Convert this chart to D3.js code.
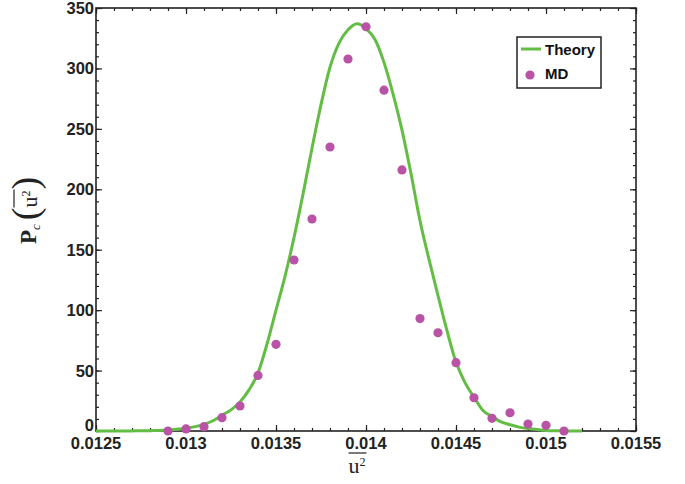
<!DOCTYPE html>
<html>
<head>
<meta charset="utf-8">
<script src="https://cdn.jsdelivr.net/npm/d3@7"></script>
<style>
  body { margin: 0; background: #fff; }
  svg { display: block; }
  .tick-label { font-family: "Liberation Sans", Arial, sans-serif; font-weight: bold; font-size: 16.5px; fill: #222; }
</style>
</head>
<body>
<svg id="chart" width="685" height="484"></svg>
<script>
// MD samples
const mdX = [0.0129, 0.0130, 0.0131, 0.0132, 0.0133, 0.0134, 0.0135, 0.0136, 0.0137, 0.0138, 0.0139, 0.0140,
             0.0141, 0.0142, 0.0143, 0.0144, 0.0145, 0.0146, 0.0147, 0.0148, 0.0149, 0.0150, 0.0151];
const mdY = [0, 1.7, 3.6, 11, 20.7, 46, 71.7, 141.5, 175.4, 235, 307.8, 334.5,
             282, 216, 93, 81.3, 56.5, 27.5, 10.5, 15.1, 5.8, 4.7, 0];

// theory curve
const theoryX = [0.0125, 0.0126, 0.0127, 0.0128, 0.0129, 0.0130, 0.0131, 0.01315, 0.0132, 0.01325, 0.0133, 0.01335,
                 0.0134, 0.01345, 0.0135, 0.01355, 0.0136, 0.01365, 0.0137, 0.01375, 0.0138, 0.01385, 0.0139, 0.01395,
                 0.0140, 0.01405, 0.0141, 0.01415, 0.0142, 0.01425, 0.0143, 0.01435, 0.0144, 0.01445, 0.0145, 0.01455,
                 0.0146, 0.01465, 0.0147, 0.01475, 0.0148, 0.01485, 0.0149, 0.01495, 0.0150, 0.01505, 0.0151, 0.0152];
const theoryY = [0, 0, 0.1, 0.3, 0.8, 2.2, 5.5, 8.5, 13, 17.5, 24, 34,
                 48, 72, 100, 128, 160, 196, 234, 270, 301, 321, 332, 337,
                 333, 324, 305, 279, 249, 213, 174, 142, 112, 83, 57, 40,
                 28, 17, 12, 7.5, 5.2, 3.2, 2.0, 1.2, 0.5, 0.2, 0.1, 0];

const xTicks = [0.0125, 0.013, 0.0135, 0.014, 0.0145, 0.015, 0.0155];
const xTickLabels = ["0.0125", "0.013", "0.0135", "0.014", "0.0145", "0.015", "0.0155"];
const yTicks = [0, 50, 100, 150, 200, 250, 300, 350];
const legendLabels = ["Theory", "MD"];

const green = "#63bd45", magenta = "#b853a6";

const margin = { top: 8, right: 49, bottom: 53, left: 96 },
      width = 685 - margin.left - margin.right,
      height = 484 - margin.top - margin.bottom;

const svg = d3.select("#chart");
const g = svg.append("g").attr("transform", `translate(${margin.left},${margin.top})`);

const x = d3.scaleLinear().domain([0.0125, 0.0155]).range([0, width]);
const y = d3.scaleLinear().domain([0, 350]).range([height, 0]);

const minorX = d3.range(0, 31).map(i => 0.0125 + i * 0.0001);
const minorY = d3.range(0, 36).map(i => i * 10);

// inward ticks on all four sides
function tickSet(axis, scale, values, len) {
    return axis(scale).tickValues(values).tickSizeInner(len).tickSizeOuter(0).tickFormat("");
}
const frame = g.append("g").attr("class", "frame");
frame.append("g").attr("transform", `translate(0,${height})`).call(tickSet(d3.axisTop, x, minorX, 3));
frame.append("g").attr("transform", `translate(0,${height})`).call(tickSet(d3.axisTop, x, xTicks, 6));
frame.append("g").call(tickSet(d3.axisBottom, x, minorX, 3));
frame.append("g").call(tickSet(d3.axisBottom, x, xTicks, 6));
frame.append("g").call(tickSet(d3.axisRight, y, minorY, 3));
frame.append("g").call(tickSet(d3.axisRight, y, yTicks, 6));
frame.append("g").attr("transform", `translate(${width},0)`).call(tickSet(d3.axisLeft, y, minorY, 3));
frame.append("g").attr("transform", `translate(${width},0)`).call(tickSet(d3.axisLeft, y, yTicks, 6));
frame.selectAll(".domain").remove();
frame.selectAll(".tick line").attr("stroke", "#222").attr("stroke-width", 1.2);

g.append("rect")
    .attr("width", width).attr("height", height)
    .attr("fill", "none").attr("stroke", "#222").attr("stroke-width", 1.6);

// tick labels
g.selectAll(".xlab").data(xTicks).enter().append("text")
    .attr("class", "tick-label")
    .attr("x", d => x(d)).attr("y", height + 18)
    .attr("text-anchor", "middle")
    .text((d, i) => xTickLabels[i]);

// the 0 label sits on the axis line so it clears 0.0125
g.selectAll(".ylab").data(yTicks).enter().append("text")
    .attr("class", "tick-label")
    .attr("x", -2).attr("y", d => d === 0 ? y(d) - 6 : y(d))
    .attr("dy", "0.36em")
    .attr("text-anchor", "end")
    .text(d => d);

// theory curve
const line = d3.line().x((d, i) => x(theoryX[i])).y(d => y(d)).curve(d3.curveMonotoneX);
g.append("path")
    .datum(theoryY)
    .attr("fill", "none")
    .attr("stroke", green)
    .attr("stroke-width", 3)
    .attr("d", line);

// MD points
g.selectAll(".dot").data(mdY).enter().append("circle")
    .attr("cx", (d, i) => x(mdX[i]))
    .attr("cy", d => y(d))
    .attr("r", 4.6)
    .attr("fill", magenta);

// legend
const lg = svg.append("g").attr("transform", "translate(517,37)");
lg.append("rect").attr("width", 84).attr("height", 51)
    .attr("fill", "#fff").attr("stroke", "#222").attr("stroke-width", 1.5);
lg.append("line").attr("x1", 4).attr("x2", 24).attr("y1", 12).attr("y2", 12)
    .attr("stroke", green).attr("stroke-width", 3);
lg.append("circle").attr("cx", 13).attr("cy", 38).attr("r", 4.6).attr("fill", magenta);
lg.selectAll(".lt").data(legendLabels).enter().append("text")
    .attr("x", 28).attr("y", (d, i) => 18 + i * 24)
    .style("font-family", "Liberation Sans, Arial, sans-serif")
    .style("font-weight", "bold").style("font-size", "15px").attr("fill", "#111")
    .text(d => d);

// x label: overline u^2
const xl = svg.append("text")
    .attr("x", margin.left + x(0.01395)).attr("y", 473)
    .attr("text-anchor", "middle")
    .style("font-family", "Liberation Serif, DejaVu Serif, serif").attr("fill", "#222");
xl.append("tspan").style("font-size", "22px").text("u");
xl.append("tspan").style("font-size", "12px").attr("dy", -7).text("2");
{
    const n = xl.node();
    const a = n.getStartPositionOfChar(0).x, b = n.getEndPositionOfChar(1).x;
    svg.append("line").attr("x1", a).attr("x2", b + 1).attr("y1", 453).attr("y2", 453)
        .attr("stroke", "#222").attr("stroke-width", 1.2);
}

// y label: P_c ( overline u^2 )
const yg = svg.append("g").attr("transform", "translate(36,244) rotate(-90)");
const yl = yg.append("text").attr("x", 0).attr("y", 0)
    .style("font-family", "Liberation Serif, DejaVu Serif, serif").attr("fill", "#222");
yl.append("tspan").style("font-size", "23px").style("font-weight", "bold").text("P");
yl.append("tspan").style("font-size", "13px").style("font-style", "italic").attr("dy", 4).text("c");
yl.append("tspan").style("font-size", "38px").style("font-weight", "200").attr("dx", 4).attr("dy", -2).text("(");
yl.append("tspan").style("font-size", "22px").attr("dy", -1).text("u");
yl.append("tspan").style("font-size", "12px").attr("dy", -7).text("2");
yl.append("tspan").style("font-size", "38px").style("font-weight", "200").attr("dx", 1).attr("dy", 8).text(")");
{
    const n = yl.node();
    const a = n.getStartPositionOfChar(3).x, b = n.getEndPositionOfChar(4).x;
    yg.append("line").attr("x1", a).attr("x2", b + 1).attr("y1", -22).attr("y2", -22)
        .attr("stroke", "#222").attr("stroke-width", 1.2);
}
</script>
</body>
</html>
